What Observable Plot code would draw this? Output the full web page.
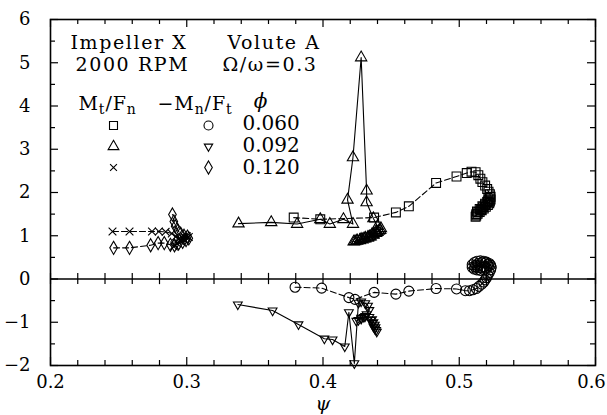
<!DOCTYPE html>
<html><head><meta charset="utf-8">
<script src="https://cdn.jsdelivr.net/npm/d3@7"></script>
<script src="https://cdn.jsdelivr.net/npm/@observablehq/plot@0.6"></script>
<style>
body{margin:0;background:#fff;}
#chart{width:607px;height:415px;}
#chart svg, #chart svg text{font-family:"DejaVu Serif", serif !important;}
</style></head><body><div id="chart"></div>
<script>
// ---- data (psi, value) ----
// phi = 0.060, Mt/Fn (squares, dashed)
const sqPsi = [0.3785,0.398,0.4375,0.4535,0.463,0.483,0.498,0.5055,0.509,0.512,0.514,0.5155,0.517,0.519,0.5205,0.5215,0.5225,0.523,0.523,0.5225,0.522,0.521,0.5195,0.518,0.5165,0.515,0.5135,0.5125,0.512,0.5125,0.514,0.516,0.5175,0.519,0.5205,0.5215,0.521,0.519,0.517,0.515,0.513];
const sqVal = [1.42,1.38,1.42,1.54,1.68,2.22,2.37,2.45,2.48,2.47,2.40,2.32,2.24,2.16,2.08,2.02,1.96,1.90,1.84,1.79,1.75,1.71,1.67,1.63,1.59,1.55,1.51,1.47,1.44,1.50,1.55,1.60,1.66,1.72,1.78,1.84,1.80,1.74,1.68,1.62,1.56];
// phi = 0.060, -Mn/Ft (circles, dashed)
const ciPsi = [0.3795,0.399,0.419,0.4235,0.4375,0.4535,0.463,0.483,0.498,0.5045,0.5075,0.510,0.5125,0.5145,0.5165,0.518,0.519,0.520,0.521,0.522,0.523,0.5235,0.523,0.522,0.520,0.518,0.5155,0.513,0.511,0.5095,0.5095,0.511,0.513,0.5155,0.518,0.520,0.5215,0.521,0.519,0.5165,0.514,0.512,0.5115,0.5135,0.516,0.5185];
const ciVal = [-0.19,-0.21,-0.43,-0.47,-0.31,-0.35,-0.28,-0.22,-0.23,-0.27,-0.27,-0.25,-0.22,-0.17,-0.12,-0.07,-0.02,0.03,0.09,0.15,0.21,0.27,0.32,0.36,0.39,0.41,0.42,0.41,0.38,0.33,0.27,0.23,0.21,0.20,0.22,0.25,0.30,0.34,0.37,0.38,0.36,0.32,0.28,0.26,0.26,0.28];
// phi = 0.092, Mt/Fn (triangles, solid)
const upPsi = [0.338,0.362,0.381,0.398,0.405,0.415,0.422,0.418,0.422,0.428,0.432,0.432,0.437,0.440,0.4425,0.441,0.439,0.437,0.435,0.433,0.431,0.429,0.427,0.425,0.4235,0.4225,0.425,0.428,0.431,0.434,0.437,0.440,0.442,0.439,0.436,0.433,0.430,0.427];
const upVal = [1.28,1.31,1.27,1.38,1.27,1.38,1.27,1.83,2.81,5.12,2.04,1.77,1.40,1.22,1.17,1.11,1.06,1.02,0.98,0.95,0.93,0.91,0.89,0.88,0.87,0.86,0.89,0.92,0.95,0.98,1.03,1.08,1.13,1.10,1.03,0.97,0.93,0.90];
// phi = 0.092, -Mn/Ft (inverted triangles, solid)
const dnPsi = [0.3375,0.363,0.382,0.401,0.407,0.416,0.419,0.423,0.426,0.428,0.431,0.433,0.434,0.432,0.430,0.428,0.426,0.4245,0.428,0.431,0.434,0.436,0.437,0.438,0.4385,0.439,0.4395,0.438,0.437,0.436,0.435];
const dnVal = [-0.59,-0.73,-1.05,-1.38,-1.40,-1.56,-0.77,-1.95,-0.55,-0.52,-0.56,-0.62,-0.72,-0.82,-0.88,-0.92,-0.95,-0.97,-0.90,-0.86,-0.88,-0.93,-1.00,-1.06,-1.12,-1.18,-1.22,-1.15,-1.10,-1.02,-0.95];
// phi = 0.120, Mt/Fn (crosses, dashed)
const crPsi = [0.2455,0.258,0.2745,0.2795,0.2845,0.289,0.292,0.294,0.296,0.298,0.300,0.3015,0.300,0.297,0.295,0.293,0.291,0.2905];
const crVal = [1.10,1.10,1.10,1.10,1.09,1.05,0.98,0.92,0.88,0.90,0.94,0.97,0.99,0.95,0.88,0.82,0.78,0.75];
// phi = 0.120, -Mn/Ft (diamonds, dashed)
const diPsi = [0.2463,0.258,0.2735,0.279,0.2835,0.288,0.291,0.294,0.297,0.2995,0.3015,0.3005,0.298,0.2955,0.2935,0.2915,0.2905,0.2895];
const diVal = [0.72,0.72,0.78,0.83,0.83,0.79,0.78,0.82,0.86,0.90,0.94,0.98,1.00,1.05,1.12,1.22,1.33,1.49];

// ---- ticks & labels ----
const xMajor = [0.2,0.3,0.4,0.5,0.6];
const xLabelsInner = [0.2,0.3,0.4,0.5];
const xLabelsEdge = [0.6];
const xMinor = [0.22,0.24,0.26,0.28,0.32,0.34,0.36,0.38,0.42,0.44,0.46,0.48,0.52,0.54,0.56,0.58];
const xAll = [0.2,0.22,0.24,0.26,0.28,0.3,0.32,0.34,0.36,0.38,0.4,0.42,0.44,0.46,0.48,0.5,0.52,0.54,0.56,0.58,0.6];
const yMajor = [-2,-1,0,1,2,3,4,5,6];
const yMinor = [-1.5,-0.5,0.5,1.5,2.5,3.5,4.5,5.5];
const phiLabels = ["0.060","0.092","0.120"];
const titleLine1 = ["Impeller X","Volute A"];
const titleLine2 = ["2000 RPM","Ω/ω=0.3"];
const legendHead = ["M_t/F_n","−M_n/F_t","ϕ"];

const zip = (a,b) => a.map((v,i)=>({psi:v, val:b[i]}));
const sq = zip(sqPsi,sqVal), ci = zip(ciPsi,ciVal), up = zip(upPsi,upVal),
      dn = zip(dnPsi,dnVal), cr = zip(crPsi,crVal), di = zip(diPsi,diVal);

const sqrt3 = Math.sqrt(3);
const triDown = {draw(ctx, size){
  const s = Math.sqrt(size)*0.6824, t = s/2, u = s*sqrt3/2;
  ctx.moveTo(0, s); ctx.lineTo(u, -t); ctx.lineTo(-u, -t); ctx.closePath();
}};

const W = 607, H = 415, mL = 50, mR = 12, mT = 19, mB = 50;
const fw = W-mL-mR, fh = H-mT-mB;
const FONT = "DejaVu Serif";
const dash = "6,3";

const series = (d, sym, r, dashed) => [
  Plot.line(d, {x:"psi", y:"val", stroke:"black", strokeWidth:1.1, strokeDasharray: dashed ? dash : null}),
  Plot.dot(d, {x:"psi", y:"val", symbol:sym, r, stroke:"black", fill:"none", strokeWidth:1.1})
];
const txt = (s, dx, dy, opts={}) => Plot.text([s], {frameAnchor:"top-left", text:d=>d, dx, dy, textAnchor:"start", lineAnchor:"middle", fontSize:19, fontFamily:FONT, fill:"black", ...opts});
const sym = (symbol, r, dx, dy) => Plot.dot([0], {frameAnchor:"top-left", symbol, r, dx, dy, stroke:"black", fill:"none", strokeWidth:1.1});

const plot = Plot.plot({
  width: W, height: H,
  marginLeft: mL, marginRight: mR, marginTop: mT, marginBottom: mB,
  style: "font-family: 'DejaVu Serif', serif; font-size: 17px; color: black; background: white;",
  x: {domain: [0.2, 0.6]},
  y: {domain: [-2, 6]},
  marks: [
    Plot.axisX(xLabelsInner, {tickSize: 0, tickPadding: 10, tickFormat: d => d.toFixed(1), fontSize: 18, fontFamily: FONT, label: null}),
    Plot.axisX(xLabelsEdge, {tickSize: 0, tickPadding: 10, tickFormat: d => d.toFixed(1), fontSize: 18, fontFamily: FONT, label: null, dx: -4}),
    Plot.axisY(yMajor, {tickSize: 0, tickPadding: 20, tickFormat: d => d < 0 ? "−" + Math.abs(d) : String(d), fontSize: 18, fontFamily: FONT, label: null}),
    // inward frame ticks
    Plot.tickX(xMajor, {x: d=>d, insetTop: fh-8, stroke:"black", strokeWidth:1.2}),
    Plot.tickX(xMinor, {x: d=>d, insetTop: fh-5, stroke:"black", strokeWidth:1.2}),
    Plot.tickX(xMajor, {x: d=>d, insetBottom: fh-8, stroke:"black", strokeWidth:1.2}),
    Plot.tickX(xMinor, {x: d=>d, insetBottom: fh-5, stroke:"black", strokeWidth:1.2}),
    Plot.tickY(yMajor, {y: d=>d, insetRight: fw-8, stroke:"black", strokeWidth:1.2}),
    Plot.tickY(yMinor, {y: d=>d, insetRight: fw-5, stroke:"black", strokeWidth:1.2}),
    Plot.tickY(yMajor, {y: d=>d, insetLeft: fw-8, stroke:"black", strokeWidth:1.2}),
    Plot.tickY(yMinor, {y: d=>d, insetLeft: fw-5, stroke:"black", strokeWidth:1.2}),
    // zero line with crossing ticks
    Plot.ruleY([0], {stroke:"black", strokeWidth:1.3}),
    Plot.ruleX(xAll, {x: d=>d, y1: -0.13, y2: 0.13, stroke:"black", strokeWidth:1.2}),
    Plot.frame({stroke:"black", strokeWidth:1.6}),
    // data
    ...series(sq, "square", 5, true),
    ...series(ci, "circle", 5, true),
    ...series(up, "triangle", 4.2, false),
    ...series(dn, triDown, 4.2, false),
    ...series(cr, "times", 3.6, true),
    ...series(di, "diamond", 4, true),
    // annotations
    txt(titleLine1[0], 20, 23),
    txt(titleLine1[1], 177, 23),
    txt(titleLine2[0], 25, 45),
    txt(titleLine2[1], 172, 45),
    txt(legendHead[0], 28, 84),
    txt(legendHead[1], 107, 84),
    txt(legendHead[2], 210, 82, {textAnchor:"middle", fontStyle:"italic", fontSize:20}),
    sym("square", 4.5, 63, 106),
    sym("triangle", 4, 63, 127),
    sym("times", 3.2, 63, 148),
    sym("circle", 4.5, 158, 106),
    sym(triDown, 4, 158, 127),
    sym("diamond", 4, 158, 148),
    txt(phiLabels[0], 192, 104, {fontSize:20}),
    txt(phiLabels[1], 192, 126, {fontSize:20}),
    txt(phiLabels[2], 192, 148, {fontSize:20}),
    Plot.text(["ψ"], {frameAnchor:"bottom", text:d=>d, dy: 38, fontSize: 19, fontFamily: FONT, fontStyle:"italic", fill:"black", lineAnchor:"middle"})
  ]
});

// subscripts for legend header; wider letter spacing for title lines
d3.select(plot).selectAll("text").each(function(){
  const s = this.textContent;
  if (titleLine1.includes(s) || titleLine2.includes(s)) this.setAttribute("letter-spacing", "1.6");
  if (!s.includes("_")) return;
  const sel = d3.select(this); sel.text(null);
  sel.attr("letter-spacing", "0.9");
  let shifted = false;
  s.split(/(_.)/).forEach(part => {
    if (!part) return;
    if (part[0] === "_") {
      sel.append("tspan").attr("dy", 4).attr("font-size", 14).text(part.slice(1));
      shifted = true;
    } else {
      const t = sel.append("tspan").text(part);
      if (shifted) { t.attr("dy", -4); shifted = false; }
    }
  });
});

document.getElementById("chart").appendChild(plot);
</script></body></html>
